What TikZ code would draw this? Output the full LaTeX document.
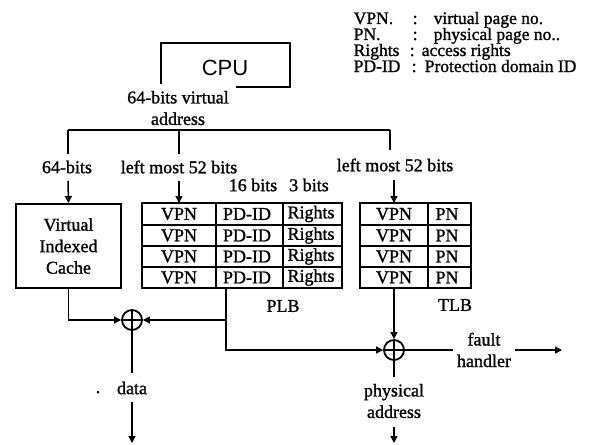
\documentclass[tikz,border=0pt]{standalone}
\usepackage{fontspec}
\setmainfont{Liberation Serif}[FakeBold=1.2]
\newfontfamily\cpufont{Liberation Sans}
\usetikzlibrary{arrows.meta}

\begin{document}
\begin{tikzpicture}[x=1pt,y=-1pt,
  line width=1.5pt,
  lbl/.style={font=\fontsize{18}{21.5}\selectfont, align=center, inner sep=0pt},
  cell/.style={font=\fontsize{18}{19}\selectfont, inner sep=0pt},
  leg/.style={font=\fontsize{17.5}{18}\selectfont, anchor=base west, inner sep=0pt},
  tbl/.style={draw, line width=2pt, inner sep=0pt},
  arr/.style={-{Triangle[length=7pt,width=7pt]}},
  xor/.style={circle, draw, line width=1.8pt, minimum size=20pt, inner sep=0pt,
    path picture={\draw[line width=1.3pt]
      (path picture bounding box.north) -- (path picture bounding box.south)
      (path picture bounding box.west) -- (path picture bounding box.east);}},
]
\useasboundingbox (0,0) rectangle (596,444);

% legend
\node[leg] (k1) at (353,24) {VPN.};
\node[leg] (c1) at (412,24) {:};
\node[leg] (d1) at (433,24) {virtual page no.};
\node[leg] (k2) at (353,40) {PN.};
\node[leg] (c2) at (412,40) {:};
\node[leg] (d2) at (433,40) {physical page no..};
\node[leg] (k3) at (353,56) {Rights};
\node[leg] (c3) at (409,56) {:};
\node[leg] (d3) at (421,56) {access rights};
\node[leg] (k4) at (353,72) {PD-ID};
\node[leg] (c4) at (411,72) {:};
\node[leg] (d4) at (424,72) {Protection domain ID};

% processor (its outline is open at the lower left)
\node[minimum width=127pt, minimum height=42pt, inner sep=0pt] (cpu) at (225.5,65) {};
\node[inner sep=0pt, font=\cpufont\fontsize{22}{24}\selectfont] (cputext) at (225,67.5) {CPU};
\draw[line width=1.8pt] ([yshift=3pt]cpu.south west) -- (cpu.north west)
  -- (cpu.north east) -- (cpu.south east) -- ([xshift=-54pt]cpu.south east);
\node[lbl] (va) at (178,108) {64-bits virtual\\address};

% address bus
\coordinate (busL) at (68,130);
\coordinate (busM) at (179,130);
\coordinate (busR) at (390,130);
\draw (busL) -- (busR);

\node[lbl] (l64) at (67,167) {64-bits};
\node[lbl] (l52a) at (179,167) {left most 52 bits};
\node[lbl] (l52b) at (395,165) {left most 52 bits};
\draw (busL) -- (68,154);
\draw (busM) -- (179,154);
\draw (busR) -- (390,150);

% virtually indexed cache
\node[tbl, minimum width=105pt, minimum height=84pt, lbl] (cache) at (68.5,246)
  {Virtual\\Indexed\\Cache};

% PLB
\node[tbl, minimum width=200pt, minimum height=85pt] (plb) at (242,245.5) {};
\draw[line width=2pt] (216,203) -- (216,288) (283,203) -- (283,288)
  (142,225) -- (342,225) (142,246) -- (342,246) (142,267) -- (342,267);
\foreach \r/\y in {1/214,2/235.5,3/256.5,4/277.5}{
  \node[cell] (pv\r) at (179,\y) {VPN};
  \node[cell] (pd\r) at (247,\y) {PD-ID};
  \node[cell] (pr\r) at (311,\y) {Rights};
}
\node[lbl] (b16) at (253,185) {16 bits};
\node[lbl] (b3) at (309,185) {3 bits};
\node[lbl] (plbname) at (283,306) {PLB};

% TLB
\node[tbl, minimum width=111pt, minimum height=85pt] (tlb) at (415.5,245.5) {};
\draw[line width=2pt] (428,203) -- (428,288)
  (360,225) -- (471,225) (360,246) -- (471,246) (360,267) -- (471,267);
\foreach \r/\y in {1/214,2/235.5,3/256.5,4/277.5}{
  \node[cell] (tv\r) at (394,\y) {VPN};
  \node[cell] (tp\r) at (447,\y) {PN};
}
\node[lbl] (tlbname) at (455,305) {TLB};

% address inputs
\draw[arr] (68,181) -- (cache.north);
\draw[arr] (179,181) -- (179,203);
\draw[arr] (394,180) -- (394,203);

% comparators
\node[xor] (x1) at (132,320) {};
\node[xor] (x2) at (394,350) {};

\draw[arr] (cache.south) |- (x1.west);
\coordinate (pout) at (226,288);
\draw[arr] (pout) |- (x2.west);
\draw[arr] (pout |- x1.east) -- (x1.east);
\draw[arr] (tlb.south -| x2.north) -- (x2.north);

% data output
\coordinate (dA) at (132,373);
\coordinate (dB) at (132,402);
\coordinate (dC) at (132,443);
\draw (x1.south) -- (dA);
\node[lbl] (data) at (132,388) {data};
\node[lbl, anchor=base] (dot) at (98,393) {.};
\draw[arr] (dB) -- (dC);

% fault handler
\node[lbl] (fh) at (484,350) {fault\\handler};
\coordinate (fE) at (562,350);
\draw (x2.east) -- ([xshift=-3pt]fh.west);
\draw[arr] ([xshift=3pt]fh.east) -- (fE);

% physical address
\coordinate (pA) at (394,377);
\coordinate (pB) at (394,427);
\coordinate (pC) at (394,443);
\draw (x2.south) -- (pA);
\node[lbl] (pa) at (394,401) {physical\\address};
\draw[arr] (pB) -- (pC);
\end{tikzpicture}
\end{document}
